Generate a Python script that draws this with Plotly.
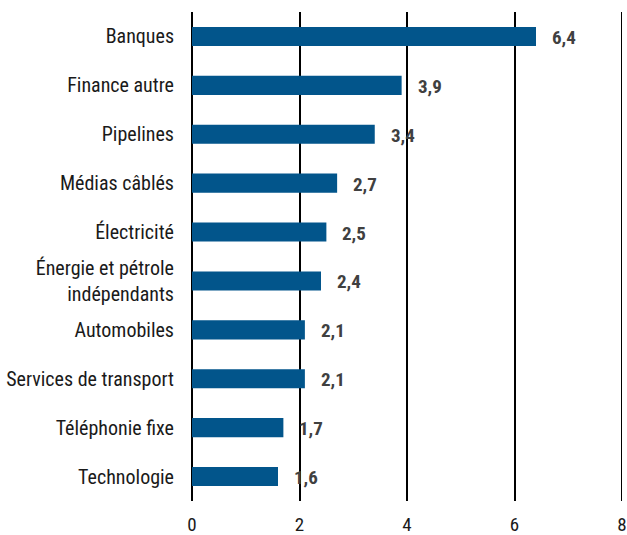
import plotly.graph_objects as go

categories = ["Banques", "Finance autre", "Pipelines", "Médias câblés", "Électricité",
              "Énergie et pétrole<br>indépendants", "Automobiles", "Services de transport",
              "Téléphonie fixe", "Technologie"]
values = [6.4, 3.9, 3.4, 2.7, 2.5, 2.4, 2.1, 2.1, 1.7, 1.6]
value_labels = ["6,4", "3,9", "3,4", "2,7", "2,5", "2,4", "2,1", "2,1", "1,7", "1,6"]
x_ticks = [0, 2, 4, 6, 8]

FONT = "Liberation Sans Narrow, Arial Narrow, Roboto Condensed, Liberation Sans, sans-serif"

fig = go.Figure()
fig.add_trace(go.Bar(
    y=categories, x=values, orientation="h",
    marker=dict(color="#02558B", line=dict(width=0)),
    width=0.39,
    hoverinfo="skip",
))

for c, v, t in zip(categories, values, value_labels):
    fig.add_annotation(x=v, y=c, text="<b>%s</b>" % t, showarrow=False,
                       xanchor="left", xshift=14, yshift=-1,
                       font=dict(family=FONT, size=19, color="#404040"))

# gridline at the top of the range (plotly omits grid lines lying on the plot edge)
fig.add_shape(type="line", xref="x", yref="paper", x0=x_ticks[-1], x1=x_ticks[-1],
              y0=0, y1=1, line=dict(color="black", width=2), layer="below")

fig.update_layout(
    width=627, height=535,
    margin=dict(l=192, r=5, t=12, b=34, autoexpand=False),
    paper_bgcolor="white", plot_bgcolor="white",
    showlegend=False,
    font=dict(family=FONT, size=19, color="#1a1a1a"),
)
fig.update_xaxes(range=[0, 8], tickvals=x_ticks, ticktext=[str(t) for t in x_ticks],
                 showgrid=True, gridcolor="black", gridwidth=2,
                 zeroline=True, zerolinecolor="black", zerolinewidth=2,
                 showline=False, ticks="", ticklabelstandoff=10, automargin=False,
                 tickfont=dict(family=FONT, size=19, color="#1a1a1a"))
fig.update_yaxes(autorange="reversed", showgrid=False, zeroline=False, showline=False,
                 ticks="", ticklabelstandoff=17, automargin=False,
                 tickfont=dict(family=FONT, size=20, color="#1a1a1a"))

# remove the default 8px page margin so the figure fills the window exactly
fig.write_html("out.html", config={"displayModeBar": False},
               post_script="document.body.style.margin='0';document.body.style.overflow='hidden';")
